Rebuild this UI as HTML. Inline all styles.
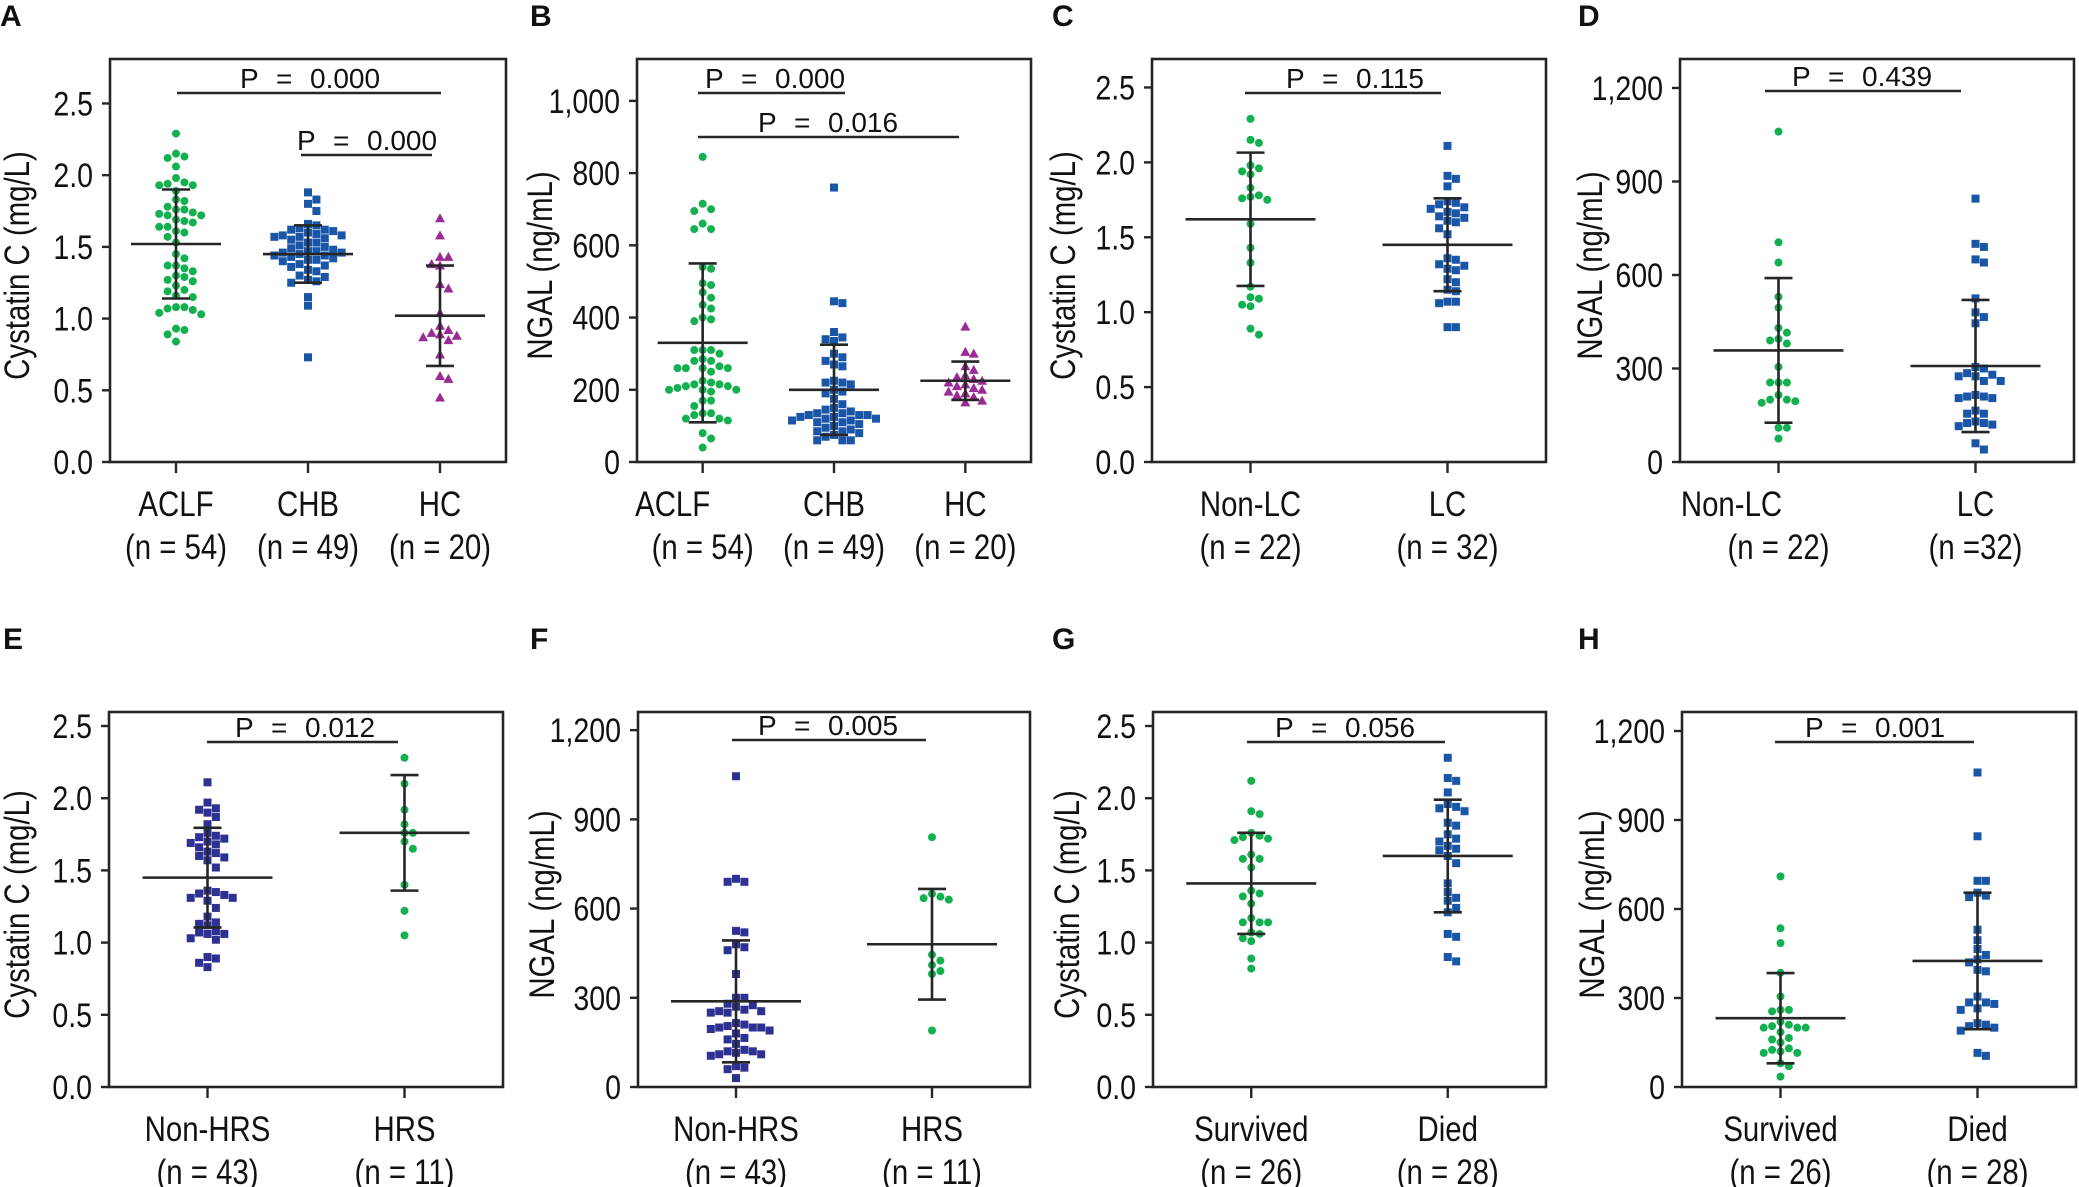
<!DOCTYPE html>
<html><head><meta charset="utf-8"><style>
html,body{margin:0;padding:0;background:#fff}
svg{display:block}
text{font-family:"Liberation Sans",sans-serif;fill:#111}
.pt{font-family:"Liberation Sans",sans-serif;font-size:28px}
.lt{font-family:"Liberation Sans",sans-serif;font-weight:bold;font-size:30px}
</style></head><body>
<svg id="fig" width="2079" height="1187" viewBox="0 0 2079 1187" xmlns="http://www.w3.org/2000/svg"></svg>
<script>
// ---- data ----
const cysTicks=[0,0.5,1,1.5,2,2.5];
const cysTickLabels=["0.0","0.5","1.0","1.5","2.0","2.5"];
const ngalTicksB=[0,200,400,600,800,1000];
const ngalTickLabelsB=["0","200","400","600","800","1,000"];
const ngalTicks=[0,300,600,900,1200];
const ngalTickLabels=["0","300","600","900","1,200"];

const aACLF=[2.29,2.15,2.13,2.12,2.06,1.98,1.95,1.94,1.93,1.93,1.89,1.83,1.82,1.78,1.76,1.76,1.74,1.73,1.72,1.72,1.69,1.68,1.67,1.64,1.64,1.61,1.60,1.57,1.53,1.42,1.37,1.37,1.35,1.33,1.30,1.29,1.27,1.26,1.23,1.20,1.19,1.16,1.15,1.08,1.08,1.07,1.06,1.04,1.03,0.93,0.92,0.89,0.84,1.45];
const aCHB=[1.88,1.83,1.80,1.75,1.66,1.65,1.63,1.62,1.62,1.61,1.60,1.59,1.58,1.58,1.57,1.57,1.56,1.55,1.53,1.53,1.51,1.50,1.49,1.48,1.47,1.47,1.46,1.46,1.45,1.44,1.44,1.43,1.42,1.41,1.41,1.40,1.38,1.37,1.36,1.34,1.33,1.30,1.29,1.27,1.26,1.25,1.15,1.09,0.73];
const aHC=[1.70,1.58,1.43,1.43,1.38,1.24,1.21,1.04,0.95,0.92,0.90,0.89,0.88,0.87,0.85,0.75,0.60,0.58,0.45,1.37];
const aMean=[1.52,1.45,1.02], aSD=[0.38,0.20,0.35];

const bACLF=[845,715,700,695,660,645,645,540,535,495,490,470,455,435,425,400,395,390,310,310,310,285,280,280,265,260,260,260,260,225,220,215,215,210,210,205,200,200,200,195,170,170,155,135,135,130,120,120,115,80,65,40,250,300];
const bCHB=[760,445,440,360,345,340,335,300,290,280,270,265,225,220,220,215,200,195,190,175,160,150,145,140,135,135,130,130,125,125,120,120,115,115,110,105,100,95,90,85,85,80,75,70,60,60,60,130,110];
const bHC=[375,305,300,265,255,240,235,230,225,220,215,210,205,200,195,190,185,180,170,165];
const bMean=[330,200,225], bSD=[220,125,53];

const cNonLC=[2.29,2.15,2.13,1.98,1.96,1.94,1.92,1.83,1.78,1.77,1.76,1.59,1.43,1.33,1.17,1.09,1.05,1.04,0.89,0.85,1.75,1.10];
const cLC=[2.11,1.91,1.89,1.84,1.74,1.73,1.72,1.70,1.69,1.67,1.66,1.64,1.63,1.61,1.60,1.56,1.52,1.36,1.35,1.32,1.31,1.29,1.28,1.22,1.20,1.15,1.14,1.07,1.07,1.06,0.90,0.90];
const cMean=[1.62,1.45], cSD=[0.445,0.31];

const dNonLC=[1060,705,640,530,495,430,415,390,395,380,305,255,255,255,215,200,190,195,200,110,110,75];
const dLC=[845,700,690,650,640,525,480,465,445,305,300,280,275,275,260,260,215,210,205,205,210,165,155,155,130,125,120,125,115,60,40,285];
const dMean=[358,308], dSD=[232,212];

const eNonHRS=[2.11,1.97,1.93,1.92,1.90,1.87,1.82,1.76,1.74,1.73,1.72,1.70,1.69,1.68,1.66,1.63,1.62,1.60,1.59,1.57,1.52,1.36,1.35,1.33,1.31,1.31,1.29,1.24,1.18,1.14,1.13,1.12,1.08,1.07,1.06,1.06,1.03,1.02,0.90,0.89,0.86,0.83,1.34];
const eHRS=[2.28,2.10,1.92,1.82,1.76,1.76,1.65,1.40,1.22,1.05,1.70];
const eMean=[1.45,1.76], eSD=[0.345,0.40];

const fNonHRS=[1045,700,690,690,525,520,480,470,460,380,300,300,280,275,270,260,255,255,250,215,210,205,200,200,195,190,180,165,160,145,125,120,120,115,110,110,105,70,65,60,30,250,200];
const fHRS=[840,650,635,630,445,425,410,390,380,190,640];
const fMean=[288,480], fSD=[205,186];

const gSurvived=[2.12,1.91,1.89,1.76,1.74,1.73,1.72,1.71,1.61,1.58,1.58,1.52,1.36,1.34,1.32,1.27,1.17,1.14,1.14,1.14,1.07,1.06,1.03,1.01,0.89,0.82];
const gDied=[2.28,2.14,2.12,2.04,1.96,1.94,1.93,1.91,1.83,1.81,1.75,1.72,1.70,1.67,1.64,1.60,1.55,1.41,1.35,1.31,1.29,1.24,1.21,1.06,1.04,0.90,0.87,1.65];
const gMean=[1.41,1.60], gSD=[0.35,0.39];

const hSurvived=[710,535,485,385,305,260,260,255,220,210,205,200,200,185,165,160,150,130,125,115,115,80,70,35,200,120];
const hDied=[1060,845,695,695,655,645,640,530,495,465,445,420,430,395,390,305,285,285,280,265,215,210,205,190,105,115,200,260];
const hMean=[232,425], hSD=[152,230];

// ---- layout ----
const G='#12b04f', B='#1a56a8', P='#9c2a94', I='#2e3192';
const panels=[
 {id:'A',lx:0,ly:26,x0:110,x1:506,y0:462,y1:59,dmax:2.81,ticks:cysTicks,tl:cysTickLabels,title:'Cystatin C (mg/L)',tx:17,
  groups:[{v:aACLF,c:G,s:'circle',n:'ACLF',nn:'(n = 54)'},{v:aCHB,c:B,s:'square',n:'CHB',nn:'(n = 49)'},{v:aHC,c:P,s:'tri',n:'HC',nn:'(n = 20)'}],
  mean:aMean,sd:aSD,pv:[{t:'0.000',y:93,cx:311,x0:177,x1:441},{t:'0.000',y:155,cx:368,x0:301,x1:432}]},
 {id:'B',lx:530,ly:26,x0:637,x1:1031,y0:462,y1:59,dmax:1116,ticks:ngalTicksB,tl:ngalTickLabelsB,title:'NGAL (ng/mL)',tx:540,
  groups:[{v:bACLF,c:G,s:'circle',n:'ACLF',nn:'(n = 54)',dx:-30},{v:bCHB,c:B,s:'square',n:'CHB',nn:'(n = 49)'},{v:bHC,c:P,s:'tri',n:'HC',nn:'(n = 20)'}],
  mean:bMean,sd:bSD,pv:[{t:'0.000',y:93,cx:776,x0:698,x1:845},{t:'0.016',y:137,cx:829,x0:698,x1:959}]},
 {id:'C',lx:1052,ly:26,x0:1152,x1:1546,y0:462,y1:59,dmax:2.69,ticks:cysTicks,tl:cysTickLabels,title:'Cystatin C (mg/L)',tx:1063,
  groups:[{v:cNonLC,c:G,s:'circle',n:'Non-LC',nn:'(n = 22)'},{v:cLC,c:B,s:'square',n:'LC',nn:'(n = 32)'}],
  mean:cMean,sd:cSD,pv:[{t:'0.115',y:93,cx:1357,x0:1245,x1:1441}]},
 {id:'D',lx:1578,ly:26,x0:1680,x1:2074,y0:462,y1:59,dmax:1293,ticks:ngalTicks,tl:ngalTickLabels,title:'NGAL (ng/mL)',tx:1590,
  groups:[{v:dNonLC,c:G,s:'circle',n:'Non-LC',nn:'(n = 22)',dx:-47},{v:dLC,c:B,s:'square',n:'LC',nn:'(n =32)'}],
  mean:dMean,sd:dSD,pv:[{t:'0.439',y:91,cx:1863,x0:1765,x1:1961}]},
 {id:'E',lx:3,ly:649,x0:109,x1:503,y0:1087,y1:712,dmax:2.597,ticks:cysTicks,tl:cysTickLabels,title:'Cystatin C (mg/L)',tx:17,
  groups:[{v:eNonHRS,c:I,s:'square',n:'Non-HRS',nn:'(n = 43)'},{v:eHRS,c:G,s:'circle',n:'HRS',nn:'(n = 11)'}],
  mean:eMean,sd:eSD,pv:[{t:'0.012',y:742,cx:306,x0:207,x1:398}]},
 {id:'F',lx:530,ly:649,x0:638,x1:1030,y0:1087,y1:712,dmax:1261,ticks:ngalTicks,tl:ngalTickLabels,title:'NGAL (ng/mL)',tx:542,
  groups:[{v:fNonHRS,c:I,s:'square',n:'Non-HRS',nn:'(n = 43)'},{v:fHRS,c:G,s:'circle',n:'HRS',nn:'(n = 11)'}],
  mean:fMean,sd:fSD,pv:[{t:'0.005',y:740,cx:829,x0:732,x1:926}]},
 {id:'G',lx:1052,ly:649,x0:1153,x1:1546,y0:1087,y1:712,dmax:2.597,ticks:cysTicks,tl:cysTickLabels,title:'Cystatin C (mg/L)',tx:1067,
  groups:[{v:gSurvived,c:G,s:'circle',n:'Survived',nn:'(n = 26)'},{v:gDied,c:B,s:'square',n:'Died',nn:'(n = 28)'}],
  mean:gMean,sd:gSD,pv:[{t:'0.056',y:742,cx:1346,x0:1247,x1:1445}]},
 {id:'H',lx:1578,ly:649,x0:1682,x1:2076,y0:1087,y1:712,dmax:1264,ticks:ngalTicks,tl:ngalTickLabels,title:'NGAL (ng/mL)',tx:1592,
  groups:[{v:hSurvived,c:G,s:'circle',n:'Survived',nn:'(n = 26)'},{v:hDied,c:B,s:'square',n:'Died',nn:'(n = 28)'}],
  mean:hMean,sd:hSD,pv:[{t:'0.001',y:742,cx:1876,x0:1775,x1:1974}]}
];

const NS='http://www.w3.org/2000/svg';
const svg=document.getElementById('fig');
function mk(tag,attrs,parent){const e=document.createElementNS(NS,tag);for(const k in attrs)e.setAttribute(k,attrs[k]);(parent||svg).appendChild(e);return e;}
// condensed text: anchored at (x,y), horizontally squeezed
function ctext(parent,x,y,str,anchor,size,rot){
  const tr=`translate(${x} ${y})`+(rot?` rotate(${rot})`:'')+' scale(0.84 1)';
  const gg=mk('g',{transform:tr},parent);
  const t=mk('text',{x:0,y:0,'text-anchor':anchor,'font-size':size},gg);
  t.textContent=str;
  return t;
}
const INK='#262626';

panels.forEach(p=>{
  const g=mk('g',{});
  
  
  const ys=v=>p.y0-(v/p.dmax)*(p.y0-p.y1);
  const n=p.groups.length;
  const xs=i=>p.x0+(p.x1-p.x0)*(n===3?(i+0.5)/3:(i===0?0.25:0.75));
  const L=mk('text',{x:p.lx,y:p.ly,class:'lt'},g);L.textContent=p.id;
  
  
  const bx=mk('rect',{x:p.x0,y:p.y1,width:p.x1-p.x0,height:p.y0-p.y1,fill:'none',stroke:INK,'stroke-width':2.6},g);
  
  
  p.ticks.forEach((t,k)=>{
    const y=ys(t);
    mk('line',{x1:p.x0-8,x2:p.x0,y1:y,y2:y,stroke:INK,'stroke-width':2.4},g);
    const tx=ctext(g,p.x0-17,y+12,p.tl[k],'end',34);
    
    
  });
  const yc=(p.y0+p.y1)/2+5;
  const tt=ctext(g,p.tx+12,yc,p.title,'middle',35,-90);
  
  
  p.groups.forEach((gr,i)=>{
    const cx=xs(i);
    mk('line',{x1:cx,x2:cx,y1:p.y0,y2:p.y0+11,stroke:INK,'stroke-width':2.4},g);
    const c1=ctext(g,cx+(gr.dx||0),p.y0+54,gr.n,'middle',35);
    
    
    const c2=ctext(g,cx,p.y0+97,gr.nn,'middle',35);
    
    
    const s=8.4;const placed=[];
    const order=gr.v.map((v,k)=>k).sort((a,b)=>gr.v[b]-gr.v[a]);
    const gp=mk('g',{fill:gr.c},g);
    
    
    order.forEach(k=>{
      const y=ys(gr.v[k]);let off=0;
      for(let j=0;j<40;j++){
        const o=j===0?0:(j%2?1:-1)*Math.ceil(j/2);
        if(!placed.some(q=>q.o===o&&Math.abs(q.y-y)<s)){off=o;break;}
      }
      placed.push({o:off,y:y});
      const x=cx+off*s;let m;
      if(gr.s==='circle')m=mk('circle',{cx:x,cy:y,r:4},gp);
      else if(gr.s==='square')m=mk('rect',{x:x-4,y:y-4,width:8,height:8},gp);
      else m=mk('polygon',{points:`${x},${y-5} ${x+5},${y+4} ${x-5},${y+4}`},gp);
      
      
    });
    const mh=n===3?45:65, ch=14;
    const ym=ys(p.mean[i]),yt=ys(p.mean[i]+p.sd[i]),yb=ys(p.mean[i]-p.sd[i]);
    const eg=mk('g',{stroke:INK,'stroke-width':2.6},g);
    
    
    mk('line',{x1:cx-mh,x2:cx+mh,y1:ym,y2:ym},eg);
    mk('line',{x1:cx,x2:cx,y1:yt,y2:yb},eg);
    mk('line',{x1:cx-ch,x2:cx+ch,y1:yt,y2:yt},eg);
    mk('line',{x1:cx-ch,x2:cx+ch,y1:yb,y2:yb},eg);
  });
  p.pv.forEach(q=>{
    const pg=mk('g',{},g);
    
    
    mk('line',{x1:q.x0,x2:q.x1,y1:q.y,y2:q.y,stroke:INK,'stroke-width':2.6},pg);
    const bl=q.y-5;
    const t1=mk('text',{x:q.cx-71,y:bl,class:'pt'},pg);t1.textContent='P';
    const t2=mk('text',{x:q.cx-35,y:bl,class:'pt'},pg);t2.textContent='=';
    const t3=mk('text',{x:q.cx-1,y:bl,class:'pt'},pg);t3.textContent=q.t;
  });
});
</script>
</body></html>
